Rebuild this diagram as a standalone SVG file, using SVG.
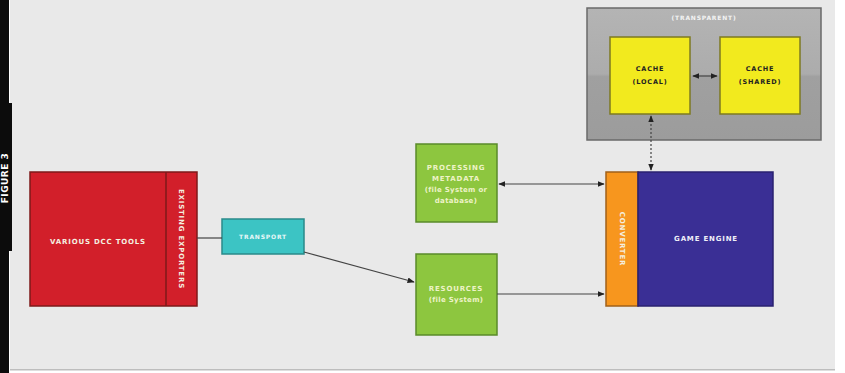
<svg xmlns="http://www.w3.org/2000/svg" width="845" height="373" viewBox="0 0 845 373">
<style>
.lbl{font-family:"DejaVu Sans","Liberation Sans",sans-serif;font-weight:bold;font-size:7px;letter-spacing:0.8px;text-anchor:middle}
.w{fill:#f4f0e0}
.d{fill:#222;font-size:6.5px}
.g{fill:#eef3c8}
.conn{stroke:#444;stroke-width:1.2;fill:none}
</style>
<defs>
<marker id="ah" viewBox="0 0 10 10" refX="9" refY="5" markerWidth="6" markerHeight="6" orient="auto-start-reverse">
<path d="M0,1 L10,5 L0,9 z" fill="#222"/>
</marker>
<linearGradient id="gg" x1="0" y1="0" x2="0" y2="1">
<stop offset="0" stop-color="#b4b4b4"/>
<stop offset="0.5" stop-color="#acacac"/>
<stop offset="0.52" stop-color="#a0a0a0"/>
<stop offset="1" stop-color="#9c9c9c"/>
</linearGradient>
</defs>
<rect x="0" y="0" width="845" height="373" fill="#ffffff"/>
<rect x="10" y="0" width="825" height="370" fill="#e9e9e9"/>
<rect x="10" y="369" width="825" height="1.5" fill="#bdbdbd"/>
<g id="figure-label">
<rect x="0" y="0" width="9" height="373" fill="#0c0c0c"/>
<rect x="0" y="103" width="12" height="148" fill="#0c0c0c"/>
<text transform="translate(8,178) rotate(-90)" style="font-family:'DejaVu Sans','Liberation Sans',sans-serif;font-weight:bold;font-size:9px;fill:#ffffff;text-anchor:middle;letter-spacing:0.5px">FIGURE 3</text>
</g>
<g id="transparent-group">
<rect x="587" y="8" width="234" height="132" fill="url(#gg)" stroke="#6a6a6a" stroke-width="1.5"/>
<text class="lbl" x="704" y="20" fill="#f4f4f4" style="font-size:6px">(TRANSPARENT)</text>
</g>
<g id="cache-local">
<rect x="610" y="37" width="80" height="77" fill="#f2ea1e" stroke="#7d7a22" stroke-width="1.5"/>
<text class="lbl d" x="650" y="71">CACHE</text>
<text class="lbl d" x="650" y="84">(LOCAL)</text>
</g>
<g id="cache-shared">
<rect x="720" y="37" width="80" height="77" fill="#f2ea1e" stroke="#7d7a22" stroke-width="1.5"/>
<text class="lbl d" x="760" y="71">CACHE</text>
<text class="lbl d" x="760" y="84">(SHARED)</text>
</g>
<g id="dcc-tools">
<rect x="30" y="172" width="167" height="134" fill="#d21f2a" stroke="#7e1a1a" stroke-width="1.5"/>
<line x1="166" y1="172" x2="166" y2="306" stroke="#7e1a1a" stroke-width="1.5"/>
<text class="lbl w" x="98" y="244">VARIOUS DCC TOOLS</text>
<text class="lbl w" transform="translate(179,239) rotate(90)">EXISTING EXPORTERS</text>
</g>
<g id="transport">
<rect x="222" y="219" width="82" height="35" fill="#3cc4c4" stroke="#2a8a8a" stroke-width="1.5"/>
<text class="lbl" x="263" y="239" fill="#e8f8f8" style="font-size:6px">TRANSPORT</text>
</g>
<g id="processing-metadata">
<rect x="416" y="144" width="81" height="78" fill="#8dc63f" stroke="#5a8a2a" stroke-width="1.5"/>
<text class="lbl g" x="456" y="170">PROCESSING</text>
<text class="lbl g" x="456" y="181">METADATA</text>
<text class="lbl g" x="456" y="192" style="letter-spacing:0.3px">(file System or</text>
<text class="lbl g" x="456" y="203" style="letter-spacing:0.3px">database)</text>
</g>
<g id="resources">
<rect x="416" y="254" width="81" height="81" fill="#8dc63f" stroke="#5a8a2a" stroke-width="1.5"/>
<text class="lbl g" x="456" y="291">RESOURCES</text>
<text class="lbl g" x="456" y="302" style="letter-spacing:0.3px">(file System)</text>
</g>
<g id="converter">
<rect x="606" y="172" width="32" height="134" fill="#f7961e" stroke="#a0601a" stroke-width="1.5"/>
<text class="lbl w" transform="translate(620,239) rotate(90)">CONVERTER</text>
</g>
<g id="game-engine">
<rect x="638" y="172" width="135" height="134" fill="#3a2f95" stroke="#2a2270" stroke-width="1.5"/>
<text class="lbl" x="706" y="241" fill="#f0f0f8">GAME ENGINE</text>
</g>
<g id="connectors">
<line class="conn" x1="197" y1="238" x2="222" y2="238"/>
<line class="conn" x1="304" y1="252" x2="414" y2="282" marker-end="url(#ah)"/>
<line class="conn" x1="499" y1="184" x2="604" y2="184" marker-start="url(#ah)" marker-end="url(#ah)"/>
<line class="conn" x1="497" y1="294" x2="604" y2="294" marker-end="url(#ah)"/>
<line class="conn" x1="693" y1="76" x2="717" y2="76" marker-start="url(#ah)" marker-end="url(#ah)"/>
<line class="conn" x1="651" y1="116" x2="651" y2="170" stroke-dasharray="2,2" marker-start="url(#ah)" marker-end="url(#ah)"/>
</g>
</svg>
